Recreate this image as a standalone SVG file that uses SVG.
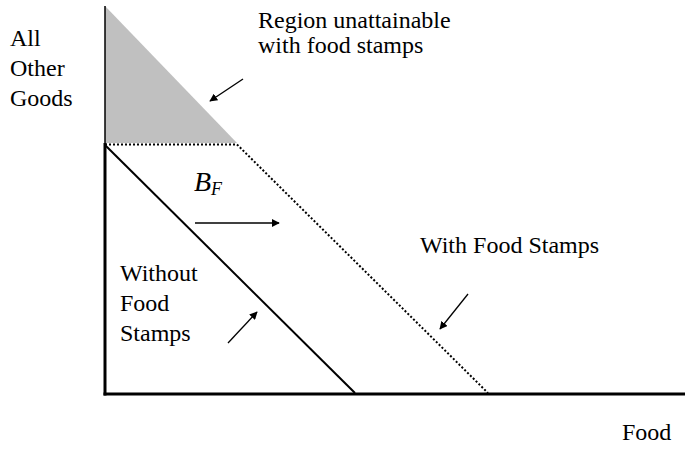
<svg xmlns="http://www.w3.org/2000/svg" width="685" height="449" viewBox="0 0 685 449">
<style>
text{font-family:"Liberation Serif","Times New Roman",serif;fill:#000}
.lbl{font-size:24px}
.arr{stroke:#000;stroke-width:1.3;fill:none;marker-end:url(#ah)}
</style>
<defs>
<marker id="ah" viewBox="0 0 10 10" refX="9" refY="5" markerWidth="8" markerHeight="8" markerUnits="userSpaceOnUse" orient="auto">
<path d="M0,0 L10,5 L0,10 z" fill="#000"/>
</marker>
</defs>
<g id="shaded-region"><polygon points="105,6 105,143 237,143" fill="#c0c0c0"/></g>
<g id="axes">
<line x1="105" y1="6" x2="105" y2="143" stroke="#000" stroke-width="1.5"/>
<line x1="105" y1="143" x2="105" y2="395.5" stroke="#000" stroke-width="3"/>
<line x1="103.5" y1="394" x2="685" y2="394" stroke="#000" stroke-width="3"/>
</g>
<g id="connectors">
<path d="M105,144.5 L237,144.5 L488,393" fill="none" stroke="#000" stroke-width="2" stroke-dasharray="2,2"/>
<line x1="105" y1="145" x2="355" y2="393" stroke="#000" stroke-width="2"/>
<line class="arr" x1="243" y1="79" x2="210" y2="101"/>
<line class="arr" x1="195" y1="223" x2="279" y2="223"/>
<line class="arr" x1="468" y1="294" x2="440" y2="329"/>
<line class="arr" x1="228" y1="343" x2="257" y2="312"/>
</g>
<g id="label-yaxis">
<text class="lbl" x="10" y="46">All</text>
<text class="lbl" x="10" y="76">Other</text>
<text class="lbl" x="10" y="106">Goods</text>
</g>
<g id="label-region">
<text class="lbl" x="258" y="28">Region unattainable</text>
<text class="lbl" x="258" y="53">with food stamps</text>
</g>
<g id="label-bf"><text x="194" y="191" font-size="28" font-style="italic">B<tspan font-size="18" dy="4">F</tspan></text></g>
<g id="label-with"><text class="lbl" x="420" y="253">With Food Stamps</text></g>
<g id="label-without">
<text class="lbl" x="120" y="281">Without</text>
<text class="lbl" x="120" y="311">Food</text>
<text class="lbl" x="120" y="341">Stamps</text>
</g>
<g id="label-xaxis"><text class="lbl" x="622" y="440">Food</text></g>
</svg>
